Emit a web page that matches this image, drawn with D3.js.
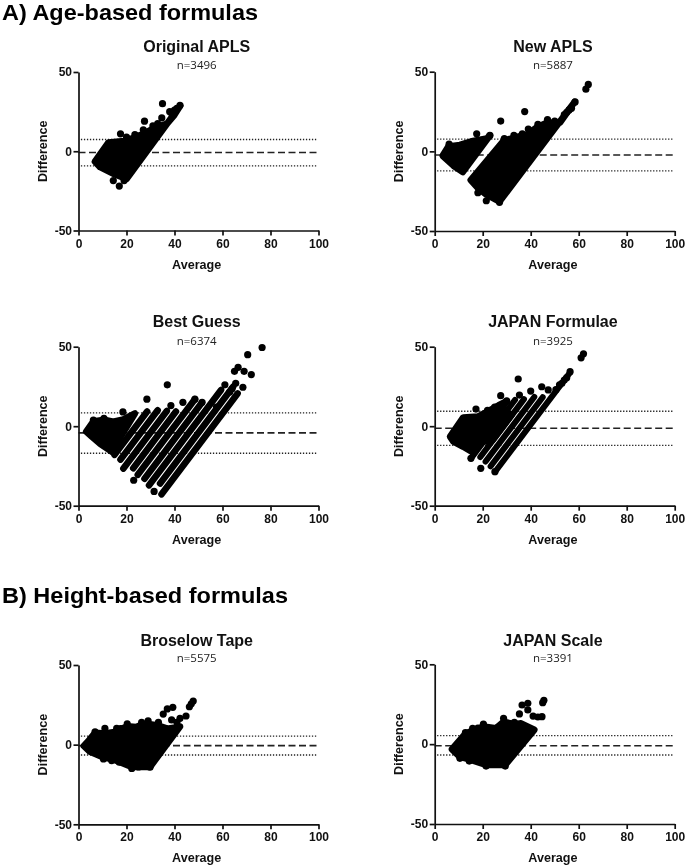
<!DOCTYPE html>
<html><head><meta charset="utf-8">
<script src="https://cdn.jsdelivr.net/npm/d3@7"></script>
<style>
html,body{margin:0;padding:0;background:#fff}
svg{display:block;filter:blur(0.35px)}
text{font-family:"Liberation Sans",Arial,sans-serif;fill:#111}
</style></head><body>
<svg id="c" width="685" height="867"></svg>
<script>
// ---------- data (in axis units: average, difference) ----------
const xTicks = [0,20,40,60,80,100];
const yTicks = [-50,0,50];
const sectionTitles = ["A) Age-based formulas","B) Height-based formulas"];
const panelTitles = ["Original APLS","New APLS","Best Guess","JAPAN Formulae","Broselow Tape","JAPAN Scale"];
const panelCounts = ["n=3496","n=5887","n=6374","n=3925","n=5575","n=3391"];
const meanDiff  = [-0.8,-2.3,-4.2,-1.3,-0.6,-1];
const upperLoA  = [7.4,7.7,8.4,9.4,5.4,5.3];
const lowerLoA  = [-9.2,-12.3,-17,-12,-6.5,-6.8];

const originalCloud = [[[6.8,-6.5],[12.5,5.5],[19,6.5],[23,8.5],[27,11],[32,15],[37,17.5],[40,23],[42.3,28.5],[20,-17.5],[15,-14.5],[9,-10]]];
const originalBands = [];
const originalPoints = [[35,30],[27.5,19],[17.5,11],[34.7,21],[17,-22],[14.5,-18.5],[19,-18.5],[38,25],[40,26],[42.3,29],[41,27],[39,23],[20,9],[23.5,10.5],[27,13.5],[31,16],[33,17.5]];

const newCloud = [
 [[3.3,-2.8],[5.7,3],[10.5,4],[16,6.5],[21.7,8],[23,10],[11.7,-13],[7.8,-9]],
 [[15,-18],[28.6,6.5],[32.8,8.5],[38.3,10.5],[42.5,15],[46.7,18],[52.2,18],[58.3,31],[27,-31.5],[21.4,-27],[18,-23]]
];
const newBands = [];
const newPoints = [[63,39],[64,42],[58.5,31],[57,27],[56,26],[55,24.5],[54,23],[37.5,25],[27.5,19],[17.5,11],[39,14],[43,17],[47,20],[50,19],[21.5,-31],[27,-32],[18,-26],[19,-24],[25,-27],[29,8],[33,10],[36.5,11],[6,4.5],[23,10]];

const bestCloud = [[[3.2,-3.4],[6.2,3],[10.6,4],[14.5,2.8],[18.7,4.3],[23.5,8],[13.8,-16],[9,-11],[5.5,-6.5]]];
const bestBands = [
 [[15,-18],[28.6,9.2]],[[17.5,-21],[33,10]],[[18.7,-26.6],[36.8,9.6]],[[22.8,-26.4],[40.6,9.2]],
 [[24.7,-30.6],[48.5,17]],[[27.5,-33],[51.3,14.6]],[[29.4,-37.2],[59.4,22.8]],[[34,-36],[64.5,25]],[[34.6,-42.8],[66.3,20.6]]
];
const bestPoints = [[76.5,49.5],[70.5,45],[66.5,37],[65,34.5],[69,34.5],[72,32.5],[68.5,24.5],[65.5,27],[61,26],[37,26],[28.5,17],[38.5,13],[43.5,15],[48.5,17],[51.5,15],[18.5,9],[23,-34],[31.5,-41],[57.5,12],[63,21.5],[64,23.5],[6.2,3.9],[10.6,5]];

const japanCloud = [
 [[6.4,-6.6],[11.9,5.5],[18,6],[22.3,9.5],[26.5,13],[30,15.7],[16,-14],[15.4,-16],[11.9,-12.9],[7.8,-9.7]],
 [[19,-10],[29,10],[32,7],[24,-9]]
];
const japanBands = [
 [[15.1,-20.2],[33.5,16.6]],[[19,-19.4],[37.2,17]],[[21.2,-22.2],[41.5,18.4]],[[23.3,-25.2],[45,18.2]],[[25.1,-28.8],[56.4,33.8]]
];
const japanPoints = [[34.8,29.7],[27.5,19.2],[17.2,10.8],[35.3,19.6],[40,22.1],[44.6,24.8],[47.3,22.8],[19.2,-26.5],[25.1,-28.6],[15.1,-20.2],[61,43],[62,45.5],[56.4,34.3],[55,30.5],[54,29],[53,27],[52,26],[50.5,23],[30,16],[25,12],[22,10]];

const broselowCloud = [[[2.2,-0.8],[4.5,3],[6.9,7.5],[11,7],[15,8],[20.3,11.5],[24,11],[26.3,12.5],[29,13],[33.3,12],[37,10],[42.3,11.3],[29.8,-14],[22.2,-14],[14,-9],[10.4,-8],[4.8,-4.5]]];
const broselowBands = [];
const broselowPoints = [[47.8,27.4],[47,25.6],[46.2,23.8],[39.3,23.4],[37,22.4],[35.3,19.2],[44.8,18],[42.3,16.5],[38.8,15.5],[41,14],[29,15],[33.3,14],[6.9,8.1],[11,10.2],[15.9,10.2],[17.5,10],[20.3,13],[26.3,14],[29.8,-14.2],[22.2,-14.9],[25,-14],[10.4,-9],[13.8,-10],[17,-11]];

const scaleCloud = [[[7.2,-3.2],[12.8,6.5],[15.8,8.5],[20.3,11],[25.5,10],[28.7,14],[33.2,12.5],[36,13],[41.5,9],[29.4,-13],[21.4,-13],[14.4,-9.5],[10.5,-8]]];
const scaleBands = [];
const scalePoints = [[45.5,27.5],[45,26],[36.4,24.5],[38.8,25.6],[38.8,21.4],[35.3,18.9],[41,17.6],[44.7,17.2],[43,17],[28.7,16.2],[33.2,13.7],[20.3,12.6],[15.8,9.9],[18,10],[12.8,7.2],[21.4,-13.7],[29.4,-13.7],[24,-12.5],[14.4,-10.6],[10.5,-8.9],[17,-10]];

// ---------- layout ----------
const layout = [
 {l:78.5,t:72,h:158.5,ty:46,ny:65},{l:434.7,t:71.7,h:159.3,ty:46,ny:65},
 {l:78.5,t:346.7,h:159,ty:321.7,ny:341},{l:434.7,t:346.7,h:159,ty:321.7,ny:341},
 {l:78.5,t:665,h:159.3,ty:640,ny:657.7},{l:434.7,t:664.3,h:159.7,ty:640,ny:657.7}
];
const clouds=[originalCloud,newCloud,bestCloud,japanCloud,broselowCloud,scaleCloud];
const bands=[originalBands,newBands,bestBands,japanBands,broselowBands,scaleBands];
const points=[originalPoints,newPoints,bestPoints,japanPoints,broselowPoints,scalePoints];
const W=240, R=3.6, INK="#000";

const svg=d3.select("#c");
svg.append("rect").attr("width",685).attr("height",867).attr("fill","#fff");
svg.selectAll("text.sec").data(sectionTitles).join("text").attr("class","sec")
  .attr("x",2).attr("y",(d,i)=>[20.2,603][i]).attr("font-size",22.3).attr("font-weight",700)
  .attr("textLength",(d,i)=>[256,286][i]).attr("lengthAdjust","spacingAndGlyphs").style("fill","#000").text(d=>d);

layout.forEach((p,i)=>{
  const x=d3.scaleLinear().domain([0,100]).range([0,W]);
  const y=d3.scaleLinear().domain([-50,50]).range([p.h,0]);
  const g=svg.append("g").attr("transform",`translate(${p.l},${p.t})`);

  // limit and mean lines under the marks
  [[upperLoA[i],"1.3 1.7",1.3,1],[lowerLoA[i],"1.3 1.7",1.3,1],[meanDiff[i],"7 3.5",1.6,0]].forEach(([v,dash,sw,x0])=>{
    g.append("line").attr("x1",x(x0)).attr("x2",x(x0?99.3:100)).attr("y1",y(v)).attr("y2",y(v))
      .attr("stroke","#222").attr("stroke-width",sw).attr("stroke-dasharray",dash);
  });

  const line=d3.line().x(d=>x(d[0])).y(d=>y(d[1]));
  g.selectAll("path.cloud").data(clouds[i]).join("path").attr("class","cloud")
    .attr("d",d=>line(d)+"Z").attr("fill",INK).attr("stroke",INK).attr("stroke-width",6.6).attr("stroke-linejoin","round");
  g.selectAll("path.band").data(bands[i]).join("path").attr("class","band")
    .attr("d",line).attr("fill","none").attr("stroke",INK).attr("stroke-width",i===2?6.6:6).attr("stroke-linecap","round");
  g.selectAll("circle").data(points[i]).join("circle")
    .attr("cx",d=>x(d[0])).attr("cy",d=>y(d[1])).attr("r",R).attr("fill",INK);

  // axes
  const ax=g.append("g").attr("transform",`translate(0,${p.h})`)
    .call(d3.axisBottom(x).tickValues(xTicks).tickSize(5).tickSizeOuter(0).tickPadding(3.5).tickFormat(String));
  const ay=g.append("g").call(d3.axisLeft(y).tickValues(yTicks).tickSize(5).tickSizeOuter(0).tickPadding(1.5).tickFormat(String));
  [ax,ay].forEach(a=>{
    a.selectAll("path,line").attr("stroke","#111").attr("stroke-width",1.7);
    a.selectAll("text").attr("font-size",12).attr("font-weight",700).attr("font-family",'"Liberation Sans",Arial,sans-serif');
  });

  const cx=p.l+118.2;
  svg.append("text").attr("x",cx).attr("y",p.ty+5.6).attr("text-anchor","middle").attr("font-size",16).attr("font-weight",700).text(panelTitles[i]);
  svg.append("text").attr("x",cx).attr("y",p.ny+4).attr("text-anchor","middle").attr("font-size",11.5).style("font-family",'"Open Sans",sans-serif').style("fill","#222").text(panelCounts[i]);
  svg.append("text").attr("x",cx).attr("y",p.t+p.h+38).attr("text-anchor","middle").attr("font-size",12.6).attr("font-weight",700).text("Average");
  svg.append("text").attr("transform",`translate(${p.l-32},${p.t+p.h/2}) rotate(-90)`).attr("text-anchor","middle").attr("font-size",12.6).attr("font-weight",700).text("Difference");
});
</script>
</body></html>
